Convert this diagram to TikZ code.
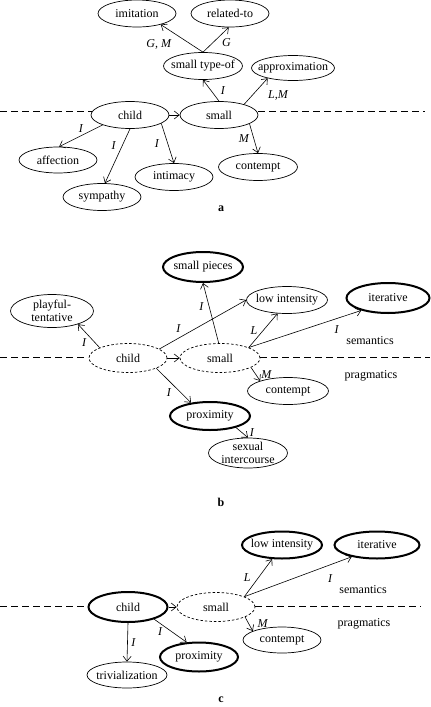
\documentclass[tikz,border=0pt]{standalone}
\usepackage{fontspec}
\setmainfont{Liberation Serif}
\usepackage{tikz}
\usetikzlibrary{arrows.meta,shapes}
\tikzset{
  sense/.style={draw, ellipse, line width=0.7pt, minimum width=78pt, minimum height=27pt,
    inner xsep=-6pt, inner ysep=-1pt, align=center, font=\fontsize{12}{12.5}\selectfont},
  focus/.style={sense, line width=2pt},
  faded/.style={sense, dash pattern=on 2.5pt off 2pt},
  rel/.style={-{Straight Barb[length=5pt,width=8pt]}, line width=0.6pt},
  lbl/.style={font=\fontsize{12}{12.5}\selectfont\itshape, inner sep=1.5pt},
  side/.style={font=\fontsize{12}{12.5}\selectfont, inner sep=0pt},
  panel/.style={font=\fontsize{12}{12.5}\selectfont\bfseries, inner sep=0pt},
  level/.style={dash pattern=on 7pt off 4pt, line width=0.7pt}
}
\begin{document}
\begin{tikzpicture}[x=1pt, y=-1pt]
\useasboundingbox (0,0) rectangle (431,707);
\node[sense] (imitA) at (137,13.5) {imitation};
\node[sense] (relA) at (230,13.5) {related-to};
\node[sense, minimum width=79pt] (typeA) at (203,66) {small type-of};
\node[sense, minimum width=83pt, minimum height=25pt] (approxA) at (293,68) {approximation};
\node[sense] (childA) at (130,115) {child};
\node[sense] (smallA) at (219,115) {small};
\node[sense, minimum height=26pt] (affA) at (58,160) {affection};
\node[sense] (sympA) at (102,197) {sympathy};
\node[sense] (intA) at (174,177) {intimacy};
\node[sense, minimum width=79pt] (contA) at (258,167) {contempt};
\node[panel] (panA) at (221,209) {a};
\draw[level] (0,111) -- (92,111);
\draw[level] (258,111) -- (425,111);
\draw[rel] (childA.east) -- (smallA.west);
\draw[rel] (smallA.north) -- node[lbl, right=8pt] {I} (typeA.south);
\draw[rel] (smallA.23) -- node[lbl, pos=.35, right=14pt] {L,M} (approxA.202);
\draw[rel] (typeA.north) -- node[lbl, left=9pt, yshift=-6pt] {G, M} (imitA.335);
\draw[rel] (typeA.north) -- node[lbl, pos=.4, right=7pt] {G} (relA.265);
\draw[rel] (smallA.344) -- node[lbl, left=3pt] {M} (contA.north);
\draw[rel] (childA.200) -- node[lbl, above=2pt] {I} (affA.85);
\draw[rel] (childA.south) -- node[lbl, pos=.3, left=5pt] {I} (sympA.78);
\draw[rel] (childA.345) -- node[lbl, left=7pt] {I} (intA.north);

\node[focus, minimum width=80pt, minimum height=30pt] (piecesB) at (203,267) {small pieces};
\node[sense, minimum width=81pt] (lowB) at (287,300) {low intensity};
\node[focus, minimum width=83pt, minimum height=30pt] (iterB) at (388,298) {iterative};
\node[sense, minimum width=83pt, minimum height=33pt] (playB) at (52,311) {playful-\\tentative};
\node[faded, minimum height=29pt] (childB) at (128,358) {child};
\node[faded, minimum width=80pt, minimum height=29pt] (smallB) at (220,358) {small};
\node[sense, minimum width=81pt] (contB) at (288,391) {contempt};
\node[focus, minimum width=80pt, minimum height=28pt] (proxB) at (210,416) {proximity};
\node[sense, minimum width=79pt, minimum height=30pt] (sexB) at (248,453) {sexual\\intercourse};
\node[side] (semB) at (370,341) {semantics};
\node[side] (pragB) at (371,376) {pragmatics};
\node[panel] (panB) at (221,502) {b};
\draw[level] (0,357) -- (88,357);
\draw[level] (260,357) -- (430,357);
\draw[rel] (childB.160) -- node[lbl, below left=1pt] {I} (playB.333);
\draw[rel] (childB.16) -- node[lbl, pos=.22, above=4pt] {I} (lowB.west);
\draw[rel] (smallB.95) -- node[lbl, pos=.6, left=4pt] {I} (piecesB.south);
\draw[rel] (smallB.20) -- node[lbl, left=4pt] {L} (lowB.235);
\draw[rel] (smallB.20) -- node[lbl, pos=.78, below=5pt] {I} (iterB.205);
\draw[rel] (childB.east) -- (smallB.west);
\draw[rel] (smallB.343) -- node[lbl, right=4pt] {M} (contB.160);
\draw[rel] (childB.340) -- node[lbl, below left=1pt] {I} (proxB.145);
\draw[rel] (proxB.336) -- node[lbl, right=6pt] {I} (sexB.north);

\node[focus, minimum width=80pt] (lowC) at (282,545) {low intensity};
\node[focus, minimum width=85pt] (iterC) at (377,545) {iterative};
\node[focus, minimum width=79pt, minimum height=30pt] (childC) at (128,607) {child};
\node[faded, minimum height=29pt] (smallC) at (216,607) {small};
\node[sense, minimum height=26pt] (contC) at (282,640) {contempt};
\node[focus, minimum height=29pt] (proxC) at (199,657) {proximity};
\node[sense, minimum width=80pt, minimum height=26pt] (trivC) at (127,675) {trivialization};
\node[side] (semC) at (363,590) {semantics};
\node[side] (pragC) at (364,624) {pragmatics};
\node[panel] (panC) at (221,700) {c};
\draw[level] (0,606) -- (88,606);
\draw[level] (255,606) -- (421,606);
\draw[rel] (childC.east) -- (smallC.west);
\draw[rel] (smallC.20) -- node[lbl, left=6pt] {L} (lowC.235);
\draw[rel] (smallC.20) -- node[lbl, pos=.8, below=8pt] {I} (iterC.205);
\draw[rel] (smallC.341) -- node[lbl, right=7pt] {M} (contC.163);
\draw[rel] (childC.south) -- node[lbl, right=2pt] {I} (trivC.north);
\draw[rel] (childC.335) -- node[lbl, pos=.55, left=8pt] {I} (proxC.130);
\end{tikzpicture}
\end{document}
